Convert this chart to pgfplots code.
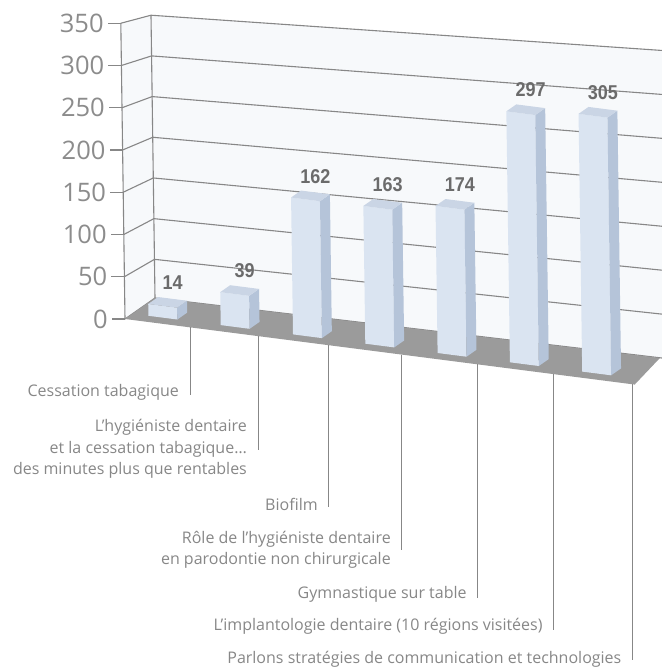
\documentclass[border=0pt]{standalone}
\usepackage{pgfplots}
\pgfplotsset{compat=1.18}
\usepackage{fontspec}
\setmainfont{Open Sans}
\newfontfamily\valfont[FakeStretch=0.9]{Liberation Sans}
\definecolor{wall}{HTML}{F7F9FB}
\definecolor{gridc}{HTML}{878787}
\definecolor{floorc}{HTML}{9B9B9B}
\definecolor{barfront}{HTML}{DAE4F1}
\definecolor{barside}{HTML}{B5C4D9}
\definecolor{bartop}{HTML}{CAD5E5}
\definecolor{txt}{HTML}{878787}
\definecolor{tickc}{HTML}{8C8C8C}
\definecolor{val}{HTML}{6B6B6B}
% one bar: left x, right x, value
\newcommand{\cuboid}[3]{%
 \addplot3[fill=barfront, draw=none] coordinates {(#1,0.25,0) (#2,0.25,0) (#2,0.25,#3) (#1,0.25,#3)} -- cycle;
 \addplot3[fill=barside, draw=none] coordinates {(#2,0.25,0) (#2,0.58,0) (#2,0.58,#3) (#2,0.25,#3)} -- cycle;
 \addplot3[fill=bartop, draw=none] coordinates {(#1,0.25,#3) (#2,0.25,#3) (#2,0.58,#3) (#1,0.58,#3)} -- cycle;
}
% one gridline level: front level, back-left level, back-right level
\newcommand{\gl}[3]{%
 \draw[gridc, line width=1.1bp] (axis cs:0,0,#1) -- (axis cs:0,1,#2) -- (axis cs:7.25,1,#3);
 \draw[gridc, line width=1.1bp] (axis cs:0,0,#1) -- ++(-13bp,0);
 \node[anchor=east, inner sep=0, text=tickc, font=\fontsize{25.5bp}{25.5bp}\selectfont, xshift=-17bp] at (axis cs:0,0,#1) {#1};
}
\begin{document}
\begin{tikzpicture}
\useasboundingbox (0,0) rectangle (662bp,669bp);
\clip (0,0) rectangle (662bp,669bp);
\begin{axis}[
 at={(125bp,350bp)}, anchor=origin,
 x={(72.3bp,-9.3bp)}, y={(30bp,21bp)}, z={(-0.012bp,0.845bp)},
 xmin=0, xmax=7.25, ymin=0, ymax=1, zmin=0, zmax=372,
 hide axis, clip=false,
 /pgf/number format/assume math mode=true,
]
% walls
\addplot3[fill=wall, draw=none] coordinates {(0,1,0) (7.25,1,6.36) (7.25,1,371.7) (0,1,334.65)} -- cycle;
\addplot3[fill=wall, draw=none] coordinates {(0,0,0) (0,1,0) (0,1,334.65) (0,0,350)} -- cycle;
\gl{0}{0}{6.36}
\gl{50}{45.75}{58.6}
\gl{100}{93.9}{110.8}
\gl{150}{142.05}{163.0}
\gl{200}{190.2}{215.2}
\gl{250}{238.35}{267.4}
\gl{300}{286.5}{319.5}
\gl{350}{334.65}{371.7}
\draw[gridc, line width=1.1bp] (axis cs:0,0,0) -- (axis cs:0,0,350);
\draw[gridc, line width=1.1bp] (axis cs:0,1,0) -- (axis cs:0,1,334.65);
% floor
\addplot3[fill=floorc, draw=none] coordinates {(0,0,0) (7.05,0,0) (6.985,1,5.9) (0,1,0)} -- cycle;
% bars
\cuboid{0.22}{0.62}{14}
\cuboid{1.22}{1.62}{39}
\cuboid{2.22}{2.62}{162}
\cuboid{3.22}{3.62}{163}
\cuboid{4.22}{4.62}{174}
\cuboid{5.22}{5.62}{297}
\cuboid{6.22}{6.62}{305}
% value labels
\addplot3[draw=none, point meta=z, nodes near coords,
 every node near coord/.append style={yshift=9bp, inner sep=0, text=val,
 font=\valfont\bfseries\fontsize{20bp}{20bp}\selectfont}]
 coordinates {(0.42,0.58,14) (1.42,0.58,39) (2.42,0.58,162) (3.42,0.58,163) (4.42,0.58,174) (5.42,0.58,297) (6.42,0.58,305)};
% leader line feet on the floor front edge
\coordinate (f1) at (axis cs:0.90,0,0);
\coordinate (f2) at (axis cs:1.84,0,0);
\coordinate (f3) at (axis cs:2.82,0,0);
\coordinate (f4) at (axis cs:3.83,0,0);
\coordinate (f5) at (axis cs:4.88,0,0);
\coordinate (f6) at (axis cs:5.93,0,0);
\coordinate (f7) at (axis cs:7.02,0,0);
\end{axis}
\coordinate (y1) at (0,274bp);
\coordinate (y2) at (0,219bp);
\coordinate (y3) at (0,162bp);
\coordinate (y4) at (0,119bp);
\coordinate (y5) at (0,71bp);
\coordinate (y6) at (0,39bp);
\coordinate (y7) at (0,9bp);
\coordinate (l1) at (0,277bp);
\coordinate (l2) at (0,220bp);
\coordinate (l3) at (0,165bp);
\coordinate (l4) at (0,119bp);
\coordinate (l5) at (0,75bp);
\coordinate (l6) at (0,43bp);
\coordinate (l7) at (0,10bp);
\foreach \k in {1,...,7}{
 \draw[gridc, line width=1bp] (f\k) -- (f\k |- y\k);
}
\tikzset{cat/.style={anchor=east, inner sep=0, xshift=-11bp, text=txt, align=right, font=\fontsize{16bp}{21.5bp}\selectfont}}
\node[cat] at (f1 |- l1) {Cessation tabagique};
\node[cat] at (f2 |- l2) {L’hygiéniste dentaire\\et la cessation tabagique…\\des minutes plus que rentables};
\node[cat] at (f3 |- l3) {Biofilm};
\node[cat] at (f4 |- l4) {Rôle de l’hygiéniste dentaire\\en parodontie non chirurgicale};
\node[cat] at (f5 |- l5) {Gymnastique sur table};
\node[cat] at (f6 |- l6) {L’implantologie dentaire (10 régions visitées)};
\node[cat] at (f7 |- l7) {Parlons stratégies de communication et technologies};
\end{tikzpicture}
\end{document}
